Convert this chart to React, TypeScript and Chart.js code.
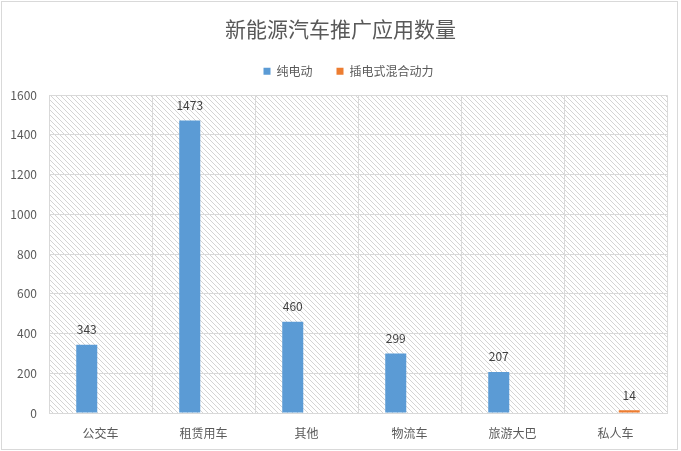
import { useEffect, useRef } from "react";
import { Chart, registerables } from "chart.js";

Chart.register(...registerables);

const chartTitle = "新能源汽车推广应用数量";
const categories = ["公交车", "租赁用车", "其他", "物流车", "旅游大巴", "私人车"];
const seriesNames = ["纯电动", "插电式混合动力"];
const pureElectric = [343, 1473, 460, 299, 207, null];
const plugInHybrid = [null, null, null, null, null, 14];
const yMin = 0;
const yMax = 1600;
const yStep = 200;

const FONT = '"Noto Sans CJK SC", "Microsoft YaHei", sans-serif';
const TEXT = "#595959";
const GRID = "#d9d9d9";

function shiftBox(box: any, dx: number, extraHeight: number) {
  if (!box || box.__patched) return;
  box.__patched = true;
  if (extraHeight && typeof box.fit === "function") {
    const origFit = box.fit.bind(box);
    box.fit = function () {
      origFit();
      this.height += extraHeight;
    };
  }
  if (typeof box.draw === "function") {
    const origDraw = box.draw.bind(box);
    box.draw = function (...args: any[]) {
      this.ctx.save();
      this.ctx.translate(dx, 0);
      origDraw(...args);
      this.ctx.restore();
    };
  }
}

const backgroundPlugin = {
  id: "hatchBackground",
  afterInit(chart: any) {
    shiftBox(chart.titleBlock, 7, 0);
    shiftBox(chart.legend, 15, 8);
  },
  beforeDraw(chart: any) {
    const { ctx, chartArea } = chart;
    const { left, top, right, bottom } = chartArea;
    ctx.save();
    ctx.fillStyle = "#ffffff";
    ctx.fillRect(0, 0, chart.width, chart.height);
    ctx.strokeStyle = GRID;
    ctx.lineWidth = 1;
    ctx.strokeRect(1.5, 1.5, 676, 448);
    const tile = document.createElement("canvas");
    tile.width = 5;
    tile.height = 5;
    const t = tile.getContext("2d")!;
    t.fillStyle = "#d4d4d4";
    for (let i = 0; i < 5; i++) t.fillRect(i, i, 1, 1);
    const pattern = ctx.createPattern(tile, "repeat");
    ctx.fillStyle = pattern;
    ctx.fillRect(left, top, right - left, bottom - top);
    ctx.restore();
  },
};

const valueLabelPlugin = {
  id: "valueLabels",
  afterDatasetsDraw(chart: any) {
    const { ctx } = chart;
    ctx.save();
    ctx.fillStyle = "#404040";
    ctx.font = `12px ${FONT}`;
    ctx.textAlign = "center";
    ctx.textBaseline = "middle";
    chart.data.datasets.forEach((ds: any, di: number) => {
      const meta = chart.getDatasetMeta(di);
      meta.data.forEach((el: any, i: number) => {
        const v = ds.data[i];
        if (v === null || v === undefined || v === 0) return;
        ctx.fillText(String(v), el.x, el.y - 15);
      });
    });
    ctx.restore();
  },
};

export default function App() {
  const canvasRef = useRef<HTMLCanvasElement | null>(null);

  useEffect(() => {
    const canvas = canvasRef.current;
    if (!canvas) return;
    const chart = new Chart(canvas, {
      type: "bar",
      data: {
        labels: categories,
        datasets: [
          {
            label: seriesNames[0],
            data: pureElectric,
            backgroundColor: "#5b9bd5",
            categoryPercentage: 0.534,
            barPercentage: 0.764,
          },
          {
            label: seriesNames[1],
            data: plugInHybrid,
            backgroundColor: "#ed7d31",
            categoryPercentage: 0.534,
            barPercentage: 0.764,
          },
        ],
      },
      options: {
        responsive: true,
        maintainAspectRatio: false,
        animation: false,
        layout: { padding: { left: 0, right: 14, top: 0, bottom: 0 } },
        plugins: {
          title: {
            display: true,
            text: chartTitle,
            color: TEXT,
            font: { family: FONT, size: 21, weight: "normal" },
            padding: { top: 16, bottom: 0 },
          },
          legend: {
            display: true,
            position: "top",
            labels: {
              color: TEXT,
              font: { family: FONT, size: 12 },
              boxWidth: 7,
              boxHeight: 7,
              padding: 24,
            },
          },
          tooltip: { enabled: false },
        },
        scales: {
          x: {
            grid: { color: GRID, offset: true, drawTicks: false },
            border: { color: GRID },
            ticks: { color: TEXT, font: { family: FONT, size: 12 }, padding: 13 },
            afterFit: (s: any) => {
              s.height = 38;
            },
          },
          y: {
            min: yMin,
            max: yMax,
            grid: { color: GRID, drawTicks: false },
            border: { color: GRID },
            ticks: {
              color: TEXT,
              font: { family: FONT, size: 12 },
              padding: 12,
              stepSize: yStep,
              callback: (v: any) => String(v),
            },
            afterFit: (s: any) => {
              s.width = 49;
            },
          },
        },
      },
      plugins: [backgroundPlugin, valueLabelPlugin],
    });
    return () => chart.destroy();
  }, []);

  return (
    <div style={{ position: "absolute", left: 0, top: 0, width: 681, height: 451 }}>
      <canvas ref={canvasRef} />
    </div>
  );
}
